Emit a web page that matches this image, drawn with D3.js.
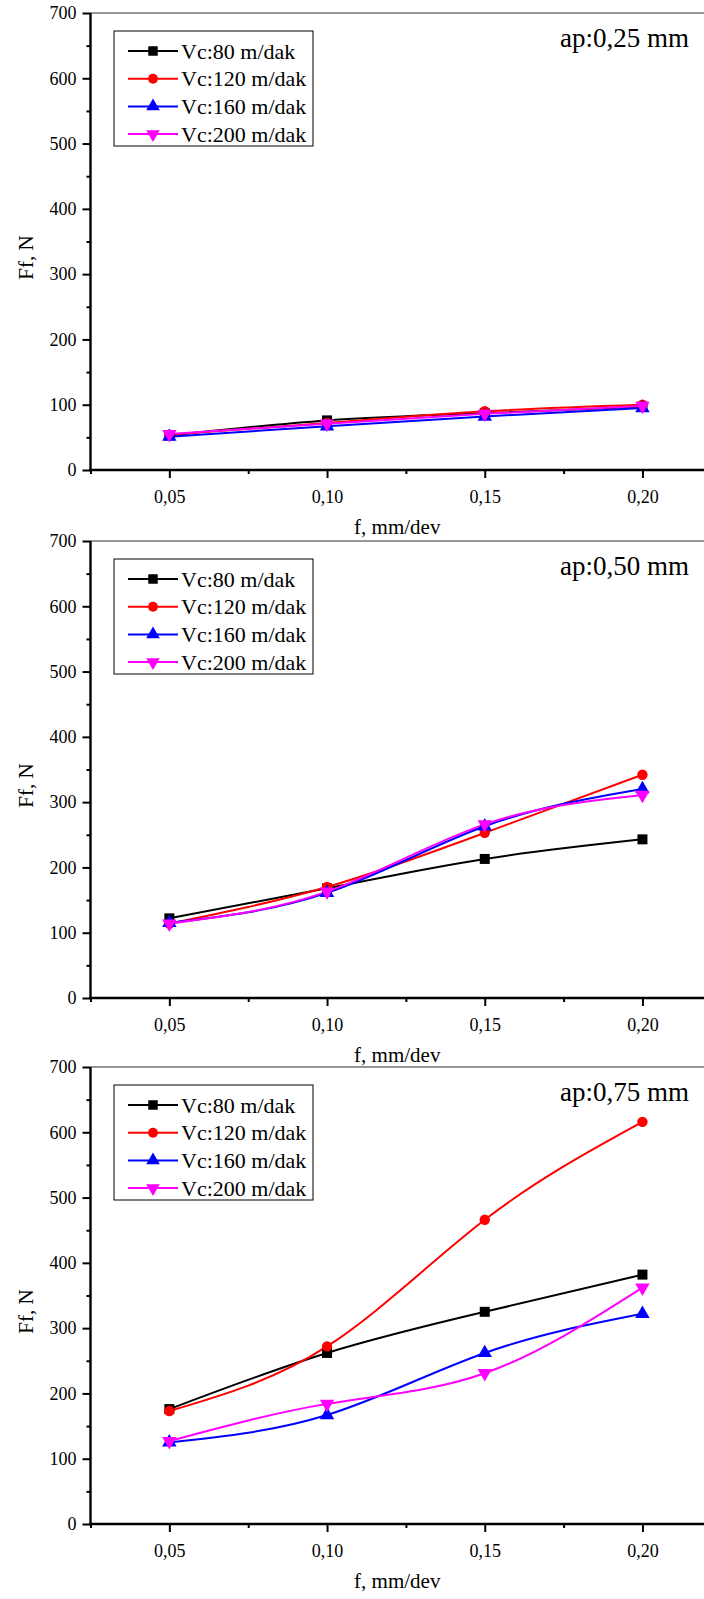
<!DOCTYPE html>
<html>
<head>
<meta charset="utf-8">
<script src="https://cdn.jsdelivr.net/npm/d3@7"></script>
<style>
  body { margin: 0; background: #fff; }
  svg { display: block; }
  svg text { font-family: "Liberation Serif", "Times New Roman", serif; }
</style>
</head>
<body>
<svg id="chart"></svg>
<script>
// feed rate (mm/dev) on x, feed force Ff (N) on y
const feedRates = [0.05, 0.10, 0.15, 0.20];
const xTickLabels = ["0,05", "0,10", "0,15", "0,20"];
const xMinorTicks = [0.075, 0.125, 0.175];
const yTicks = [0, 100, 200, 300, 400, 500, 600, 700];
const yMinorTicks = [50, 150, 250, 350, 450, 550, 650];

const seriesNames = ["Vc:80 m/dak", "Vc:120 m/dak", "Vc:160 m/dak", "Vc:200 m/dak"];
const seriesColors = ["#000000", "#ff0000", "#0000ff", "#ff00ff"];
const seriesSymbols = ["square", "circle", "triangle", "triangleDown"];

const depthLabels = ["ap:0,25 mm", "ap:0,50 mm", "ap:0,75 mm"];

// one row per cutting speed, one value per feed rate
const ffAp025 = [
    [53, 76, 87, 97],
    [54, 72, 90, 100],
    [51, 67, 82, 95],
    [55, 71, 86, 98]
];
const ffAp050 = [
    [122, 168, 213, 243],
    [114, 170, 253, 342],
    [115, 161, 263, 320],
    [114, 163, 266, 311]
];
const ffAp075 = [
    [176, 262, 325, 382],
    [173, 272, 466, 616],
    [125, 167, 262, 322],
    [127, 184, 231, 362]
];
const panelData = [ffAp025, ffAp050, ffAp075];

const W = 704, H = 1599;
const panelTops = [13, 541, 1067];
const plotHeight = 457;
const plotLeft = 90.5;
const plotRight = 721.3;
const font = "Liberation Serif, Times New Roman, serif";

const svg = d3.select("#chart")
    .attr("width", W)
    .attr("height", H)
    .style("font-family", font);

const x = d3.scaleLinear()
    .domain([0.025, 0.225])
    .range([plotLeft, plotRight]);

function symbolPath(name, size) {
    if (name === "square") return d3.symbol(d3.symbolSquare, size * 1.0)();
    if (name === "circle") return d3.symbol(d3.symbolCircle, size * 0.85)();
    return d3.symbol(d3.symbolTriangle, size * 0.9)();
}

function drawMarker(g, name, color, cx, cy, size) {
    g.append("path")
        .attr("d", symbolPath(name, size))
        .attr("fill", color)
        .attr("transform", "translate(" + cx + "," + cy + ")" + (name === "triangleDown" ? " rotate(180)" : ""));
}

panelData.forEach((data, p) => {
    const top = panelTops[p];
    const bottom = top + plotHeight;

    const y = d3.scaleLinear()
        .domain([0, 700])
        .range([bottom, top]);

    const g = svg.append("g").attr("class", "panel" + p);

    // top frame line
    g.append("line")
        .attr("x1", plotLeft).attr("x2", W)
        .attr("y1", top).attr("y2", top)
        .attr("stroke", "#333")
        .attr("stroke-width", 1.2);

    // y axis
    const yAxis = d3.axisLeft(y)
        .tickValues(yTicks)
        .tickSize(8)
        .tickPadding(6)
        .tickFormat(d3.format("d"));
    const yMinor = d3.axisLeft(y)
        .tickValues(yMinorTicks)
        .tickSize(4)
        .tickFormat("");

    const gy = g.append("g")
        .attr("transform", "translate(" + plotLeft + ",0)")
        .call(yAxis)
        .attr("font-family", null);
    gy.select(".domain").remove();
    gy.selectAll("line").attr("stroke-width", 2);
    gy.selectAll("text")
        .style("font-family", font)
        .attr("font-size", 18)
        .attr("fill", "#000");
    const gym = g.append("g")
        .attr("transform", "translate(" + plotLeft + ",0)")
        .call(yMinor);
    gym.select(".domain").remove();
    gym.selectAll("line").attr("stroke-width", 2);

    // x axis
    const xAxis = d3.axisBottom(x)
        .tickValues(feedRates)
        .tickSize(8)
        .tickPadding(12)
        .tickFormat((d, i) => xTickLabels[i]);
    const xMinor = d3.axisBottom(x)
        .tickValues([0.025].concat(xMinorTicks))
        .tickSize(4)
        .tickFormat("");

    const gx = g.append("g")
        .attr("transform", "translate(0," + bottom + ")")
        .call(xAxis)
        .attr("font-family", null);
    gx.select(".domain").remove();
    gx.selectAll("line").attr("stroke-width", 2);
    gx.selectAll("text")
        .style("font-family", font)
        .attr("font-size", 18)
        .attr("fill", "#000");
    const gxm = g.append("g")
        .attr("transform", "translate(0," + bottom + ")")
        .call(xMinor);
    gxm.select(".domain").remove();
    gxm.selectAll("line").attr("stroke-width", 2);

    // axis lines
    g.append("line")
        .attr("x1", plotLeft).attr("x2", plotLeft)
        .attr("y1", top).attr("y2", bottom + 1)
        .attr("stroke", "#000").attr("stroke-width", 2.4);
    g.append("line")
        .attr("x1", plotLeft - 1).attr("x2", W)
        .attr("y1", bottom).attr("y2", bottom)
        .attr("stroke", "#000").attr("stroke-width", 2.4);

    // axis titles
    g.append("text")
        .text("f, mm/dev")
        .attr("x", (plotLeft + W) / 2)
        .attr("y", bottom + 64)
        .attr("text-anchor", "middle")
        .attr("font-size", 21);
    g.append("text")
        .text("Ff, N")
        .attr("transform", "translate(33," + ((top + bottom) / 2 + 16) + ") rotate(-90)")
        .attr("text-anchor", "middle")
        .attr("font-size", 21);

    // series
    const line = d3.line()
        .x((d, i) => x(feedRates[i]))
        .y(d => y(d))
        .curve(d3.curveNatural);

    data.forEach((vals, s) => {
        g.append("path")
            .attr("d", line(vals))
            .attr("fill", "none")
            .attr("stroke", seriesColors[s])
            .attr("stroke-width", 2);
    });
    data.forEach((vals, s) => {
        vals.forEach((v, i) => drawMarker(g, seriesSymbols[s], seriesColors[s], x(feedRates[i]), y(v), 100));
    });

    // depth label
    g.append("text")
        .text(depthLabels[p])
        .attr("x", 689)
        .attr("y", top + 34)
        .attr("text-anchor", "end")
        .attr("font-size", 27);

    // legend
    const lg = g.append("g").attr("transform", "translate(114," + (top + 18) + ")");
    lg.append("rect")
        .attr("width", 199)
        .attr("height", 115)
        .attr("fill", "#fff")
        .attr("stroke", "#000")
        .attr("stroke-width", 1);
    seriesNames.forEach((name, s) => {
        const ry = 20 + s * 27.7;
        lg.append("line")
            .attr("x1", 14).attr("x2", 64)
            .attr("y1", ry).attr("y2", ry)
            .attr("stroke", seriesColors[s])
            .attr("stroke-width", 2);
        drawMarker(lg, seriesSymbols[s], seriesColors[s], 39, ry, 90);
        lg.append("text")
            .text(name)
            .attr("x", 67)
            .attr("y", ry + 7.5)
            .attr("font-size", 22);
    });
});
</script>
</body>
</html>
